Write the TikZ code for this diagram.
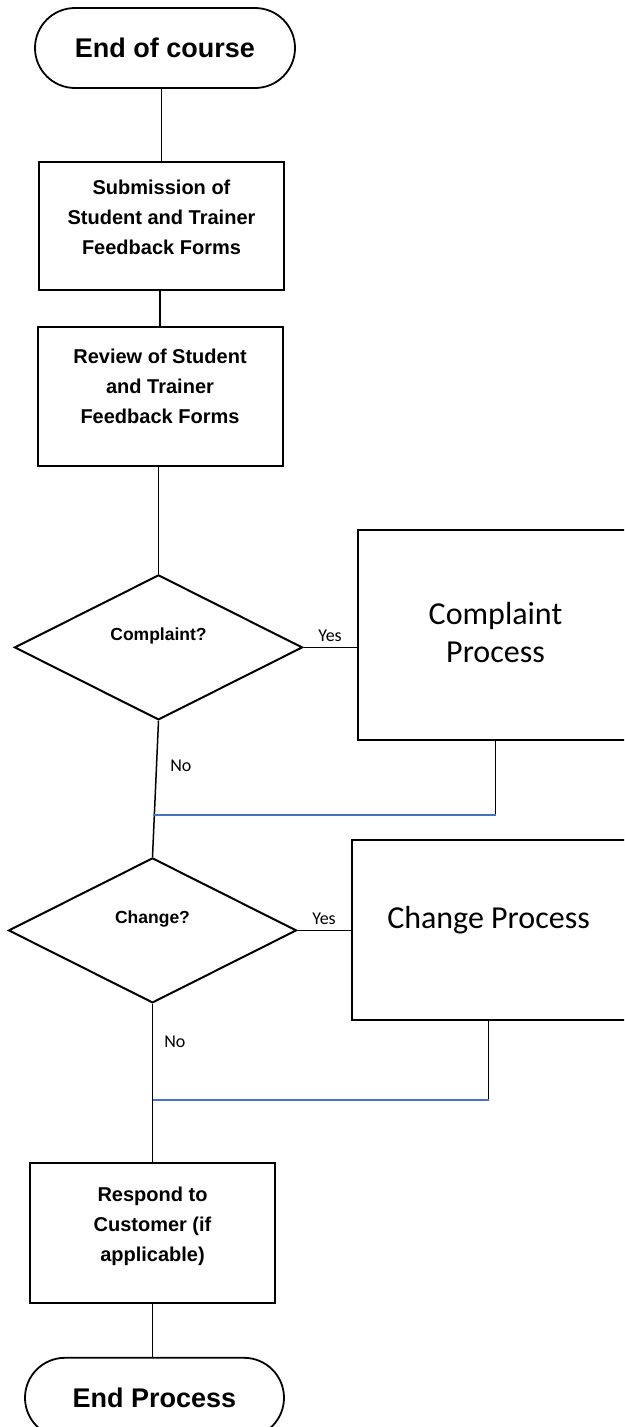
\documentclass[tikz,border=0pt]{standalone}
\usepackage{fontspec}
\setmainfont{Liberation Sans}
\newfontfamily\officefont{Carlito}
\usepackage{xcolor}
\usepackage{tikz}
\usetikzlibrary{shapes.geometric, positioning}
\definecolor{joinblue}{RGB}{68,114,196}

\begin{document}
\begin{tikzpicture}[x=1pt, y=-1pt]
\tikzstyle{terminal} = [rectangle, rounded corners=40pt, draw, line width=1.8pt, minimum width=260pt, minimum height=80pt, inner sep=0pt, font=\fontsize{27}{32}\selectfont\bfseries]
\tikzstyle{stepbox} = [rectangle, draw, line width=2pt, minimum width=245pt, inner sep=0pt]
\tikzstyle{procbox} = [rectangle, draw, line width=2pt, inner sep=0pt]
\tikzstyle{decision} = [diamond, draw, line width=2pt, minimum width=288pt, minimum height=145pt, inner sep=0pt]
\tikzstyle{boxtext} = [font=\fontsize{20}{30}\selectfont\bfseries, align=center, inner sep=0pt]
\tikzstyle{asktext} = [font=\fontsize{17.5}{21}\selectfont\bfseries, inner sep=0pt]
\tikzstyle{proctext} = [font=\officefont\fontsize{32}{38}\selectfont, align=center, inner sep=0pt]
\tikzstyle{yesno} = [font=\officefont\fontsize{18}{22}\selectfont, inner sep=0pt]
\tikzstyle{conn} = [line width=1.5pt]
\tikzstyle{joinline} = [line width=1.5pt, joinblue]

\useasboundingbox (0,0) rectangle (624,1427);
\clip (0,0) rectangle (624,1427);

% main column
\node (start) [terminal] at (165,48) {End of course};
\node (submit) [stepbox, minimum height=128pt, below=72pt of start, xshift=-3.5pt,
  label={[boxtext, anchor=north, yshift=-19pt]north:Submission of\\Student and Trainer\\Feedback Forms}] {};
\node (review) [stepbox, minimum height=139pt, below=35pt of submit, xshift=-1.5pt,
  label={[boxtext, anchor=north, yshift=-23pt]north:Review of Student\\and Trainer\\Feedback Forms}] {};
\node (complaint) [decision, below=107pt of review, xshift=-1.5pt,
  label={[asktext, yshift=11pt]center:Complaint?}] {};
\node (change) [decision, below=136pt of complaint, xshift=-6pt,
  label={[asktext, yshift=11pt]center:Change?}] {};
\node (respond) [stepbox, minimum height=140pt, below=158pt of change, xshift=0pt,
  label={[boxtext, anchor=north, yshift=-25pt]north:Respond to\\Customer (if\\applicable)}] {};
\node (finish) [terminal, minimum width=259pt, below=53pt of respond, xshift=2pt] {End Process};

% side processes
\node (cproc) [procbox, minimum width=276pt, minimum height=210pt, right=53pt of complaint, yshift=12.5pt,
  label={[proctext, yshift=2pt]center:Complaint\\Process}] {};
\node (chproc) [procbox, minimum width=274pt, minimum height=180pt, right=53pt of change,
  label={[proctext, yshift=10pt]center:Change Process}] {};

\coordinate (join1) at (153,815);
\coordinate (join2) at (153,1100);

\draw [conn] (start.south -| submit.north) -- (submit.north);
\draw [conn] (review.north |- submit.south) -- (review.north);
\draw [conn] (complaint.north |- review.south) -- (complaint.north);
\draw [conn] (complaint.east) -- node[yesno, above=5pt] {Yes} (cproc.west |- complaint.east);
\draw [conn] (complaint.south) -- node[yesno, pos=0.33, right=13pt] {No} (change.north);
\draw [conn] (cproc.south) -- (cproc.south |- join1);
\draw [joinline] (cproc.south |- join1) -- (join1);
\draw [conn] (change.east) -- node[yesno, above=5pt] {Yes} (chproc.west |- change.east);
\draw [conn] (change.south) -- node[yesno, pos=0.24, right=11pt] {No} (respond.north);
\draw [conn] (chproc.south) -- (chproc.south |- join2);
\draw [joinline] (chproc.south |- join2) -- (join2);
\draw [conn] (respond.south) -- (respond.south |- finish.north);
\end{tikzpicture}
\end{document}
